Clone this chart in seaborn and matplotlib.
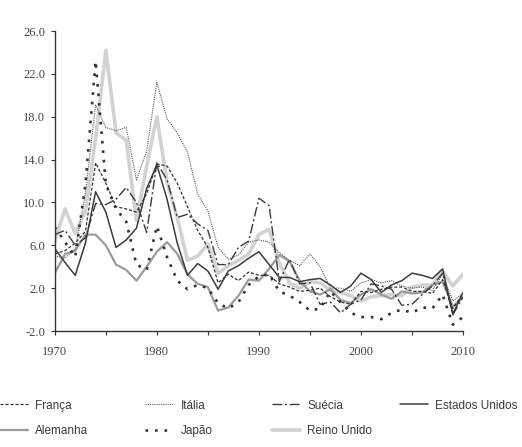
import numpy as np
import pandas as pd
import matplotlib
matplotlib.use("Agg")
import matplotlib.pyplot as plt
import seaborn as sns

sns.set_theme(style="white")

years = list(range(1970, 2011))

franca = [5.2, 5.5, 6.2, 7.3, 13.7, 11.8, 9.6, 9.4, 9.1, 10.8, 13.6, 13.4, 11.8, 9.6, 7.4,
          5.8, 2.5, 3.3, 2.7, 3.5, 3.2, 3.2, 2.4, 2.1, 1.7, 1.8, 2.0, 1.2, 0.7, 0.5,
          1.7, 1.6, 1.9, 2.1, 2.1, 1.7, 1.7, 1.5, 2.8, 0.1, 1.5]
italia = [5.0, 4.8, 5.7, 10.8, 19.1, 17.0, 16.7, 17.0, 12.1, 14.8, 21.2, 17.8, 16.5, 14.7, 10.8,
          9.2, 5.8, 4.7, 5.1, 6.3, 6.5, 6.3, 5.3, 4.6, 4.1, 5.2, 4.0, 2.0, 2.0, 1.7,
          2.5, 2.8, 2.5, 2.7, 2.2, 2.0, 2.1, 1.8, 3.3, 0.8, 1.5]
suecia = [7.0, 7.4, 6.0, 6.7, 9.9, 9.8, 10.3, 11.4, 10.0, 7.2, 13.7, 12.1, 8.6, 8.9, 8.0,
          7.4, 4.2, 4.2, 5.8, 6.4, 10.4, 9.7, 2.6, 4.7, 2.4, 2.5, 0.5, 0.7, -0.3, 0.5,
          0.9, 2.4, 2.2, 1.9, 0.4, 0.5, 1.4, 2.2, 3.4, -0.5, 1.2]
eua = [5.7, 4.4, 3.2, 6.2, 11.0, 9.1, 5.8, 6.5, 7.6, 11.3, 13.5, 10.3, 6.2, 3.2, 4.3,
       3.6, 1.9, 3.6, 4.1, 4.8, 5.4, 4.2, 3.0, 3.0, 2.6, 2.8, 2.9, 2.3, 1.6, 2.2,
       3.4, 2.8, 1.6, 2.3, 2.7, 3.4, 3.2, 2.9, 3.8, -0.4, 1.6]
alemanha = [3.4, 5.2, 5.5, 7.0, 7.0, 6.0, 4.2, 3.7, 2.7, 4.0, 5.4, 6.3, 5.2, 3.3, 2.4,
            2.1, -0.1, 0.2, 1.3, 2.8, 2.7, 3.8, 5.1, 4.5, 2.7, 1.7, 1.4, 1.9, 0.9, 0.6,
            1.4, 1.9, 1.4, 1.0, 1.7, 1.5, 1.6, 2.3, 2.6, 0.3, 1.1]
japao = [7.7, 6.3, 4.9, 11.7, 23.2, 11.7, 9.4, 8.2, 4.2, 3.7, 7.8, 4.9, 2.7, 1.9, 2.3,
         2.0, 0.6, 0.1, 0.7, 2.3, 3.1, 3.3, 1.7, 1.3, 0.7, -0.1, 0.1, 1.7, 0.7, -0.3,
         -0.7, -0.7, -0.9, -0.3, 0.0, -0.3, 0.2, 0.1, 1.4, -1.4, -0.7]
reino_unido = [6.4, 9.4, 7.1, 9.2, 16.0, 24.2, 16.5, 15.8, 8.3, 13.4, 18.0, 11.9, 8.6, 4.6, 5.0,
               6.1, 3.4, 4.1, 4.6, 5.2, 7.0, 7.5, 4.3, 2.5, 2.0, 2.6, 2.5, 1.8, 1.6, 1.3,
               0.8, 1.2, 1.3, 1.4, 1.3, 2.1, 2.3, 2.3, 3.6, 2.2, 3.3]

series = {
    "França": franca, "Itália": italia, "Suécia": suecia, "Estados Unidos": eua,
    "Alemanha": alemanha, "Japão": japao, "Reino Unido": reino_unido,
}
styles = {
    "Reino Unido": dict(color="#d2d2d2", lw=2.6, ls="-"),
    "Alemanha": dict(color="#9a9a9a", lw=1.6, ls="-"),
    "Estados Unidos": dict(color="#3c3c3c", lw=1.1, ls="-"),
    "Itália": dict(color="#5a5a5a", lw=0.8, ls=(0, (1, 1))),
    "França": dict(color="#333333", lw=0.9, ls=(0, (2.5, 1.5))),
    "Suécia": dict(color="#3a3a3a", lw=1.0, ls=(0, (7, 2, 1.5, 2))),
    "Japão": dict(color="#333333", lw=1.9, ls=(0, (1, 2.6))),
}

df = pd.DataFrame({"ano": years, **series})

fig = plt.figure(figsize=(5.22, 4.47), dpi=100)
ax = fig.add_axes([0.105, 0.2595, 0.782, 0.671])

lines = {}
for name in ["Reino Unido", "Alemanha", "Estados Unidos", "Itália", "França", "Suécia", "Japão"]:
    st = styles[name]
    sns.lineplot(data=df, x="ano", y=name, ax=ax, color=st["color"], linewidth=st["lw"],
                 linestyle=st["ls"], label=name, legend=False)
    lines[name] = ax.lines[-1]

ax.set_xlim(1970, 2010)
ax.set_ylim(-2, 26)
ax.set_xticks(range(1970, 2011, 5))
ax.set_xticklabels([str(y) if y % 10 == 0 else "" for y in range(1970, 2011, 5)])
ax.set_yticks(np.arange(-2, 27, 4))
ax.set_yticklabels([f"{v:.1f}" for v in np.arange(-2, 27, 4)])
ax.set_xlabel("")
ax.set_ylabel("")
for s in ["top", "right"]:
    ax.spines[s].set_visible(False)
for s in ["left", "bottom"]:
    ax.spines[s].set_color("#333333")
    ax.spines[s].set_linewidth(1.0)
ax.tick_params(axis="both", direction="out", length=3, width=0.8, color="#333333",
               labelcolor="#444444", labelsize=9)
ax.tick_params(axis="x", pad=8, bottom=True)
ax.tick_params(axis="y", pad=4, left=True)
for lab in ax.get_xticklabels() + ax.get_yticklabels():
    lab.set_family(["Liberation Serif", "DejaVu Serif"])

# legend: one column per group, placed like a table below the chart
columns = [(["França", "Alemanha"], 0.0), (["Itália", "Japão"], 145 / 522),
           (["Suécia", "Reino Unido"], 272 / 522), (["Estados Unidos"], 400 / 522)]
for names, x0 in columns:
    leg = fig.legend([lines[n] for n in names], names, loc="upper left",
                     bbox_to_anchor=(x0, 0.106), frameon=False, borderpad=0,
                     borderaxespad=0, handlelength=2.4, handletextpad=0.6,
                     labelspacing=1.15,
                     prop={"family": ["Liberation Sans", "DejaVu Sans"], "size": 8.5})
    for t in leg.get_texts():
        t.set_color("#3a3a3a")

fig.savefig("out.png", dpi=100)
